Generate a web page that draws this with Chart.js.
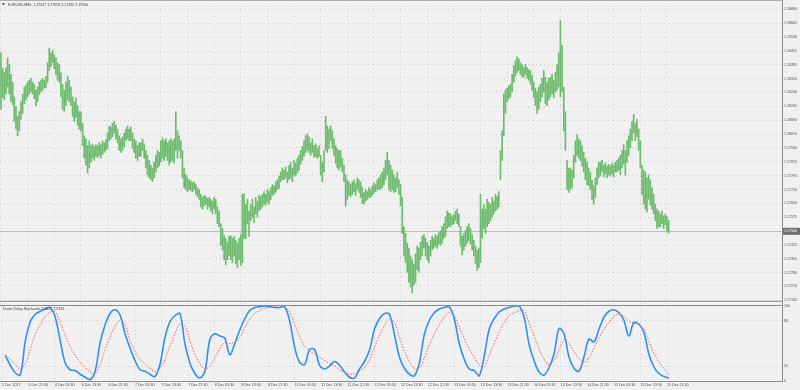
<!DOCTYPE html>
<html><head><meta charset="utf-8">
<script src="https://cdn.jsdelivr.net/npm/chart.js"></script>
<style>
html,body{margin:0;padding:0;background:#f0f0f0;width:800px;height:390px;overflow:hidden}
#wrap{position:relative;width:800px;height:390px}
canvas{position:absolute;left:0}
</style></head><body>
<div id="wrap">
<canvas id="main" width="800" height="305" style="top:0px"></canvas>
<canvas id="sub" width="800" height="94" style="top:296px"></canvas>
</div>
<script>
const symbolTitle = "EURUSD,M30  1.17547 1.17558 1.17490 1.17500";
const indicatorTitle = "Drake Delay Stochastic 1.5822 7.9194";
const lastClose = 1.17500;

const timeLabels = ["5 Dec 2017","5 Dec 21:30","6 Dec 05:30","6 Dec 13:30","6 Dec 21:30","7 Dec 05:30","7 Dec 13:30","7 Dec 21:30","8 Dec 05:30","8 Dec 13:30","8 Dec 21:30","11 Dec 05:30","11 Dec 13:30","11 Dec 21:30","12 Dec 05:30","12 Dec 13:30","12 Dec 21:30","13 Dec 05:30","13 Dec 13:30","13 Dec 21:30","14 Dec 05:30","14 Dec 13:30","14 Dec 21:30","15 Dec 05:30","15 Dec 13:30","15 Dec 21:30"];
const barsPerLabel = 16;

const priceTicks = [1.18680,1.18605,1.18530,1.18455,1.18385,1.18310,1.18240,1.18165,1.18090,1.18015,1.17945,1.17870,1.17795,1.17720,1.17650,1.17575,1.17500,1.17425,1.17355,1.17280,1.17210,1.17135];
const stochTicks = [0,20,80,100];

const highs = [
1.18447,1.18364,1.18343,1.18369,1.18421,1.18385,1.18333,1.18292,1.18214,1.18162,1.18110,1.18136,
1.18188,1.18229,1.18266,1.18276,1.18292,1.18302,1.18312,1.18292,1.18281,1.18250,1.18266,1.18292,
1.18302,1.18312,1.18302,1.18323,1.18395,1.18473,1.18447,1.18462,1.18437,1.18421,1.18395,1.18385,
1.18343,1.18281,1.18250,1.18292,1.18323,1.18302,1.18266,1.18214,1.18188,1.18209,1.18167,1.18136,
1.18136,1.18074,1.18007,1.17991,1.17955,1.17981,1.17955,1.17965,1.17950,1.17960,1.17955,1.17970,
1.17960,1.17981,1.17970,1.17986,1.18022,1.18059,1.18053,1.18074,1.18084,1.18064,1.18043,1.18007,
1.17991,1.18002,1.18022,1.18043,1.18059,1.18043,1.18053,1.18022,1.17991,1.17981,1.17955,1.17970,
1.17970,1.17991,1.17965,1.17929,1.17903,1.17877,1.17851,1.17836,1.17867,1.17903,1.17929,1.17919,
1.17981,1.17996,1.17981,1.17991,1.17970,1.17981,1.17991,1.17981,1.17991,1.18136,1.18033,1.18007,
1.17981,1.17929,1.17836,1.17800,1.17784,1.17774,1.17768,1.17758,1.17763,1.17748,1.17732,1.17722,
1.17696,1.17680,1.17691,1.17686,1.17675,1.17680,1.17670,1.17660,1.17680,1.17670,1.17629,1.17608,
1.17541,1.17515,1.17478,1.17463,1.17442,1.17473,1.17478,1.17463,1.17473,1.17452,1.17437,1.17463,
1.17483,1.17696,1.17701,1.17644,1.17670,1.17608,1.17644,1.17670,1.17629,1.17680,1.17660,1.17691,
1.17686,1.17696,1.17711,1.17696,1.17722,1.17711,1.17732,1.17748,1.17742,1.17763,1.17774,1.17794,
1.17815,1.17836,1.17825,1.17841,1.17815,1.17851,1.17867,1.17836,1.17877,1.17862,1.17888,1.17903,
1.17929,1.17950,1.17981,1.18007,1.18017,1.18002,1.17970,1.17991,1.17955,1.17965,1.17939,1.17955,
1.17903,1.17867,1.17929,1.18110,1.18059,1.18043,1.18059,1.18033,1.17991,1.17955,1.17939,1.17929,
1.17929,1.17888,1.17851,1.17800,1.17774,1.17763,1.17748,1.17763,1.17774,1.17753,1.17784,1.17774,
1.17763,1.17732,1.17706,1.17722,1.17711,1.17732,1.17722,1.17742,1.17758,1.17748,1.17774,1.17784,
1.17800,1.17815,1.17836,1.17877,1.17919,1.17877,1.17851,1.17825,1.17800,1.17784,1.17815,1.17774,
1.17748,1.17680,1.17525,1.17489,1.17437,1.17411,1.17370,1.17349,1.17328,1.17380,1.17421,1.17411,
1.17442,1.17473,1.17483,1.17463,1.17442,1.17421,1.17452,1.17473,1.17463,1.17483,1.17473,1.17494,
1.17504,1.17525,1.17541,1.17577,1.17608,1.17598,1.17592,1.17577,1.17587,1.17608,1.17618,1.17592,
1.17525,1.17473,1.17489,1.17504,1.17525,1.17541,1.17515,1.17483,1.17452,1.17421,1.17401,1.17411,
1.17696,1.17618,1.17644,1.17618,1.17670,1.17654,1.17644,1.17680,1.17660,1.17696,1.17686,1.17711,
1.17929,1.18033,1.18229,1.18250,1.18261,1.18271,1.18281,1.18333,1.18380,1.18406,1.18426,1.18416,
1.18395,1.18385,1.18369,1.18385,1.18369,1.18359,1.18354,1.18328,1.18292,1.18261,1.18240,1.18266,
1.18281,1.18312,1.18354,1.18318,1.18292,1.18312,1.18318,1.18333,1.18302,1.18343,1.18385,1.18447,
1.18618,1.18488,1.18266,1.18136,1.17877,1.17836,1.17836,1.17825,1.17903,1.17981,1.18012,1.17991,
1.17981,1.17955,1.17919,1.17888,1.17867,1.17836,1.17815,1.17774,1.17742,1.17784,1.17836,1.17867,
1.17867,1.17877,1.17851,1.17862,1.17846,1.17856,1.17846,1.17862,1.17851,1.17867,1.17877,1.17888,
1.17903,1.17929,1.17960,1.17929,1.17981,1.18007,1.18043,1.18084,1.18121,1.18074,1.18095,1.18043,
1.17981,1.17851,1.17825,1.17815,1.17784,1.17800,1.17774,1.17732,1.17696,1.17644,1.17618,1.17608,
1.17592,1.17608,1.17582,1.17592,1.17577,1.17558];

const lows = [
1.18147,1.18209,1.18198,1.18229,1.18266,1.18229,1.18188,1.18172,1.18084,1.18043,1.18007,1.18033,
1.18095,1.18126,1.18178,1.18198,1.18214,1.18229,1.18240,1.18229,1.18204,1.18167,1.18188,1.18224,
1.18240,1.18250,1.18261,1.18261,1.18292,1.18354,1.18375,1.18395,1.18364,1.18333,1.18302,1.18292,
1.18214,1.18147,1.18136,1.18167,1.18198,1.18188,1.18167,1.18110,1.18084,1.18105,1.18064,1.18043,
1.18033,1.17955,1.17888,1.17851,1.17810,1.17836,1.17867,1.17888,1.17877,1.17898,1.17893,1.17903,
1.17888,1.17908,1.17919,1.17929,1.17939,1.17981,1.17991,1.18002,1.18022,1.17991,1.17970,1.17929,
1.17919,1.17929,1.17950,1.17981,1.17991,1.17981,1.17981,1.17939,1.17919,1.17888,1.17877,1.17898,
1.17898,1.17929,1.17888,1.17836,1.17800,1.17784,1.17774,1.17763,1.17784,1.17815,1.17836,1.17846,
1.17867,1.17888,1.17877,1.17898,1.17877,1.17851,1.17867,1.17877,1.17862,1.17929,1.17888,1.17929,
1.17888,1.17784,1.17732,1.17722,1.17711,1.17722,1.17717,1.17711,1.17722,1.17696,1.17686,1.17670,
1.17629,1.17618,1.17634,1.17644,1.17618,1.17629,1.17608,1.17592,1.17618,1.17592,1.17541,1.17525,
1.17427,1.17401,1.17349,1.17323,1.17349,1.17370,1.17349,1.17333,1.17370,1.17328,1.17307,1.17349,
1.17318,1.17333,1.17463,1.17463,1.17541,1.17473,1.17556,1.17577,1.17546,1.17592,1.17577,1.17608,
1.17618,1.17629,1.17644,1.17639,1.17654,1.17644,1.17670,1.17691,1.17696,1.17706,1.17722,1.17727,
1.17763,1.17774,1.17774,1.17784,1.17758,1.17774,1.17784,1.17763,1.17800,1.17794,1.17810,1.17825,
1.17856,1.17877,1.17898,1.17919,1.17929,1.17919,1.17903,1.17919,1.17893,1.17898,1.17888,1.17898,
1.17800,1.17763,1.17815,1.17929,1.17919,1.17939,1.17981,1.17939,1.17903,1.17862,1.17836,1.17825,
1.17841,1.17815,1.17763,1.17634,1.17670,1.17691,1.17686,1.17696,1.17711,1.17691,1.17722,1.17706,
1.17680,1.17649,1.17644,1.17660,1.17670,1.17680,1.17680,1.17691,1.17701,1.17711,1.17722,1.17722,
1.17722,1.17732,1.17748,1.17774,1.17800,1.17722,1.17711,1.17722,1.17706,1.17711,1.17732,1.17696,
1.17634,1.17489,1.17370,1.17333,1.17282,1.17230,1.17204,1.17173,1.17214,1.17230,1.17297,1.17282,
1.17349,1.17370,1.17411,1.17370,1.17349,1.17333,1.17370,1.17401,1.17411,1.17421,1.17411,1.17432,
1.17427,1.17437,1.17463,1.17473,1.17515,1.17525,1.17525,1.17535,1.17541,1.17556,1.17541,1.17525,
1.17421,1.17375,1.17401,1.17421,1.17437,1.17452,1.17432,1.17401,1.17370,1.17328,1.17292,1.17307,
1.17333,1.17463,1.17515,1.17489,1.17525,1.17541,1.17556,1.17577,1.17592,1.17608,1.17618,1.17629,
1.17774,1.17877,1.18007,1.18126,1.18188,1.18204,1.18214,1.18240,1.18292,1.18323,1.18343,1.18354,
1.18333,1.18318,1.18318,1.18333,1.18312,1.18302,1.18281,1.18250,1.18209,1.18167,1.18126,1.18147,
1.18188,1.18214,1.18240,1.18178,1.18167,1.18198,1.18214,1.18229,1.18209,1.18240,1.18250,1.18266,
1.18214,1.18240,1.18033,1.17929,1.17722,1.17706,1.17722,1.17732,1.17784,1.17867,1.17903,1.17888,
1.17877,1.17846,1.17815,1.17774,1.17748,1.17742,1.17722,1.17670,1.17644,1.17680,1.17748,1.17784,
1.17794,1.17815,1.17789,1.17805,1.17784,1.17800,1.17794,1.17805,1.17789,1.17815,1.17815,1.17825,
1.17800,1.17836,1.17856,1.17800,1.17867,1.17903,1.17944,1.17981,1.18022,1.17981,1.18002,1.17929,
1.17836,1.17696,1.17644,1.17618,1.17603,1.17670,1.17639,1.17618,1.17592,1.17556,1.17515,1.17525,
1.17525,1.17541,1.17515,1.17535,1.17504,1.17490];

// stochastic, one reading every 3 bars starting at bar 2
const stochMain = [
34,21,11,8,53,79,89,93,96,98,
85,54,24,15,14,9,5,2,13,51,
75,90,95,88,63,44,27,15,13,9,
6,22,58,79,87,90,50,24,10,4,
13,55,63,60,57,35,50,68,83,94,
98,99,100,99,98,98,99,80,45,25,
22,42,42,21,16,20,26,21,12,5,
4,16,26,41,69,83,90,89,62,32,
17,9,7,24,62,81,91,96,98,99,
83,50,29,16,14,7,33,69,83,92,
96,98,100,100,85,49,27,12,8,18,
36,70,63,32,17,13,32,56,52,69,
85,93,95,91,81,60,78,76,65,36,
19,10,6,4];
const stochSignal = [
35,29,22,16,23,42,62,75,86,92,
92,78,61,46,34,25,18,12,10,22,
42,59,73,81,75,54,39,29,23,17,
12,17,29,46,63,76,73,54,36,23,
16,20,31,43,51,50,52,58,71,83,
90,94,97,98,99,98,98,92,76,59,
47,40,36,32,27,23,20,15,12,9,
10,13,18,28,45,60,74,82,78,58,
40,26,17,17,31,48,63,75,85,92,
87,72,56,43,32,21,19,34,50,65,
78,87,91,94,94,77,60,43,29,22,
27,41,55,50,39,30,25,31,44,57,
69,78,86,89,86,80,77,75,69,53,
37,26,17,8];
const stochStartBar = 2, stochEveryBars = 3;

const FONT = '"Liberation Sans", Arial, sans-serif';
const FS = 3.6;
const X_MIN = -0.6, X_MAX = 469.1;
const GRID = '#cfcfcf';
const AXIS_W = 18;

const xTicks = s => { s.ticks = timeLabels.map((_, k) => ({value: k * barsPerLabel})); };

const mainDecor = {
  id: 'mainDecor',
  beforeDatasetsDraw(chart) {
    const {ctx, chartArea: a, scales: {y}} = chart;
    const py = Math.round(y.getPixelForValue(lastClose)) + 0.5;
    ctx.save();
    ctx.strokeStyle = '#bdbdbd'; ctx.lineWidth = 1;
    ctx.beginPath(); ctx.moveTo(a.left, py); ctx.lineTo(a.right, py); ctx.stroke();
    ctx.restore();
  },
  afterDraw(chart) {
    const {ctx, chartArea: a, scales: {y}} = chart;
    ctx.save();
    ctx.strokeStyle = '#8c8c8c'; ctx.lineWidth = 1;
    ctx.beginPath();
    ctx.moveTo(a.right + 0.5, 0); ctx.lineTo(a.right + 0.5, chart.height);
    ctx.moveTo(0, a.bottom + 0.5); ctx.lineTo(a.right, a.bottom + 0.5);
    ctx.stroke();
    ctx.strokeStyle = '#b0b0b0';
    ctx.beginPath(); ctx.moveTo(0, 0.5); ctx.lineTo(a.right, 0.5); ctx.stroke();
    const py = y.getPixelForValue(lastClose);
    ctx.fillStyle = '#6e6e6e';
    ctx.fillRect(a.right + 1, py - 3.5, chart.width - a.right - 1, 7);
    ctx.fillStyle = '#ffffff';
    ctx.font = FS + 'px ' + FONT; ctx.textBaseline = 'middle'; ctx.textAlign = 'left';
    ctx.fillText(lastClose.toFixed(5), a.right + 2, py);
    ctx.fillStyle = '#3c3c3c';
    ctx.beginPath(); ctx.moveTo(2, 3.2); ctx.lineTo(5, 3.2); ctx.lineTo(3.5, 5.2); ctx.closePath(); ctx.fill();
    ctx.fillText(symbolTitle, 8, 4.5);
    ctx.restore();
  }
};

const subDecor = {
  id: 'subDecor',
  afterDraw(chart) {
    const {ctx, chartArea: a} = chart;
    ctx.save();
    ctx.strokeStyle = '#8c8c8c'; ctx.lineWidth = 1;
    ctx.beginPath();
    ctx.moveTo(0, a.top - 0.5); ctx.lineTo(a.right, a.top - 0.5);
    ctx.moveTo(a.right + 0.5, a.top - 1); ctx.lineTo(a.right + 0.5, a.bottom + 1);
    ctx.moveTo(0, a.bottom + 0.5); ctx.lineTo(a.right + 1, a.bottom + 0.5);
    ctx.stroke();
    ctx.fillStyle = '#3c3c3c';
    ctx.font = FS + 'px ' + FONT; ctx.textBaseline = 'middle'; ctx.textAlign = 'left';
    ctx.fillText(indicatorTitle, 3, a.top + 2.5);
    ctx.restore();
  }
};

const barData = highs.map((h, i) => ({x: i, y: [lows[i], h]}));

new Chart(document.getElementById('main'), {
  type: 'bar',
  data: {datasets: [{data: barData, backgroundColor: '#6cbb6c', borderWidth: 0, barThickness: 1, grouped: false}]},
  options: {
    responsive: false, animation: false, devicePixelRatio: 1,
    layout: {padding: 0},
    plugins: {legend: {display: false}, tooltip: {enabled: false}},
    scales: {
      x: {type: 'linear', min: X_MIN, max: X_MAX, offset: false,
          afterBuildTicks: xTicks,
          ticks: {display: false},
          grid: {color: GRID, drawTicks: false, offset: false},
          border: {display: false, dash: [1, 3]},
          afterFit: s => { s.height = 1; }},
      y: {position: 'right', min: 1.17131, max: 1.18706,
          afterBuildTicks: s => { s.ticks = priceTicks.map(v => ({value: v})); },
          ticks: {callback: v => Number(v).toFixed(5), font: {size: FS, family: FONT}, color: '#505050', padding: 2, autoSkip: false},
          grid: {color: GRID, drawTicks: false},
          border: {display: false, dash: [1, 3]},
          afterFit: s => { s.width = AXIS_W; }}
    }
  },
  plugins: [mainDecor]
});

const mainLine = stochMain.map((v, k) => ({x: stochStartBar + k * stochEveryBars, y: v}));
const signalLine = stochSignal.map((v, k) => ({x: stochStartBar + k * stochEveryBars, y: v}));

new Chart(document.getElementById('sub'), {
  type: 'line',
  data: {datasets: [
    {data: signalLine, borderColor: '#ff5a5a', borderWidth: 1, borderDash: [1.5, 1.5], pointRadius: 0, tension: 0.35, fill: false},
    {data: mainLine, borderColor: '#3090f0', borderWidth: 1.6, pointRadius: 0, tension: 0.35, fill: false}
  ]},
  options: {
    responsive: false, animation: false, devicePixelRatio: 1,
    layout: {padding: {top: 10, left: 0, right: 0, bottom: 0}},
    plugins: {legend: {display: false}, tooltip: {enabled: false}},
    scales: {
      x: {type: 'linear', min: X_MIN, max: X_MAX,
          afterBuildTicks: xTicks,
          ticks: {callback: (v, i) => timeLabels[i], align: 'start', font: {size: FS, family: FONT}, color: '#505050', padding: 2, maxRotation: 0, autoSkip: false},
          grid: {color: GRID, drawTicks: false},
          border: {display: false, dash: [1, 3]},
          afterFit: s => { s.height = 9; }},
      y: {position: 'right', min: 0, max: 100,
          afterBuildTicks: s => { s.ticks = stochTicks.map(v => ({value: v})); },
          ticks: {font: {size: FS, family: FONT}, color: '#505050', padding: 2, autoSkip: false},
          grid: {color: c => (c.tick && (c.tick.value === 20 || c.tick.value === 80)) ? GRID : 'rgba(0,0,0,0)', drawTicks: false},
          border: {display: false, dash: [1, 3]},
          afterFit: s => { s.width = AXIS_W; }}
    }
  },
  plugins: [subDecor]
});
</script>
</body></html>
